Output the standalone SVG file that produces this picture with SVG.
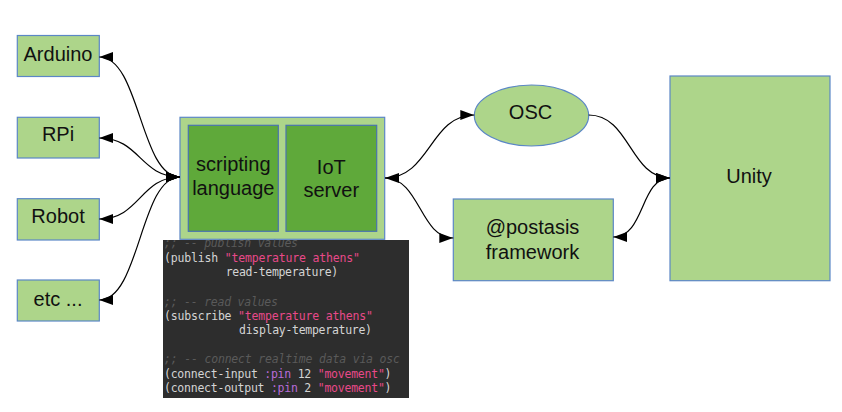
<svg xmlns="http://www.w3.org/2000/svg" width="842" height="412" viewBox="0 0 842 412">
<defs>
<style>
.box{fill:#add58a;stroke:#5b87c6;stroke-width:1.2}
.inner{fill:#5fa93a;stroke:#4a73b0;stroke-width:1.2}
.lbl{font-family:"Liberation Sans",Arial,sans-serif;font-size:20px;fill:#111;text-anchor:middle}
.con{fill:none;stroke:#000;stroke-width:1.2}
.code{font-family:"DejaVu Sans Mono","Liberation Mono",monospace;font-size:11.5px;fill:#d4d4d4}
.cm{fill:#5a5a5a;font-style:italic}
.st{fill:#e8498a}
.kw{fill:#b86cd8}
</style>
<marker id="arr" viewBox="0 0 14 10" markerWidth="14" markerHeight="10" refX="14" refY="5" markerUnits="userSpaceOnUse" orient="auto-start-reverse">
<path d="M0,0 L14,5 L0,10 z" fill="#000"/>
</marker>
</defs>
<rect width="842" height="412" fill="#fff"/>

<g id="code">
<rect x="163" y="240" width="246" height="158" fill="#2d2d2d"/>
<text class="code cm" x="164" y="247.3" textLength="134">;; -- publish values</text>
<text class="code" x="164" y="261.7" textLength="196">(publish <tspan class="st">"temperature athens"</tspan></text>
<text class="code" x="225.7" y="276.2" textLength="112.5">read-temperature)</text>
<text class="code cm" x="164" y="305.6" textLength="114">;; -- read values</text>
<text class="code" x="164" y="320" textLength="209">(subscribe <tspan class="st">"temperature athens"</tspan></text>
<text class="code" x="239" y="334.4" textLength="133">display-temperature)</text>
<text class="code cm" x="164" y="363.3" textLength="236">;; -- connect realtime data via osc</text>
<text class="code" x="164" y="377.7" textLength="227.5">(connect-input <tspan class="kw">:pin</tspan> 12 <tspan class="st">"movement"</tspan>)</text>
<text class="code" x="164" y="392.3" textLength="227.5">(connect-output <tspan class="kw">:pin</tspan> 2 <tspan class="st">"movement"</tspan>)</text>
</g>

<g id="arduino"><rect class="box" x="17.3" y="35.5" width="82" height="41"/><text class="lbl" x="58" y="60.5">Arduino</text></g>
<g id="rpi"><rect class="box" x="17.3" y="117.3" width="82" height="40.7"/><text class="lbl" x="58" y="141">RPi</text></g>
<g id="robot"><rect class="box" x="17.3" y="198.7" width="82" height="41.3"/><text class="lbl" x="58" y="223">Robot</text></g>
<g id="etc"><rect class="box" x="17.3" y="280" width="82" height="41"/><text class="lbl" x="58" y="306">etc ...</text></g>

<g id="container">
<rect class="box" x="180" y="117.3" width="204.7" height="122"/>
<g id="scripting"><rect class="inner" x="188.3" y="125.3" width="90" height="106"/><text class="lbl" x="233.3" y="171">scripting</text><text class="lbl" x="233.3" y="195">language</text></g>
<g id="iot"><rect class="inner" x="286" y="125.3" width="90.7" height="106"/><text class="lbl" x="331.3" y="174">IoT</text><text class="lbl" x="331.3" y="197">server</text></g>
</g>

<g id="osc"><ellipse class="box" cx="531.5" cy="115.5" rx="57.2" ry="30.5"/><text class="lbl" x="530.5" y="119">OSC</text></g>
<g id="postasis"><rect class="box" x="453.3" y="199" width="160" height="81.7"/><text class="lbl" x="532.5" y="234">@postasis</text><text class="lbl" x="532.5" y="259">framework</text></g>
<g id="unity"><rect class="box" x="670" y="76" width="160" height="204.7"/><text class="lbl" x="749" y="182.5">Unity</text></g>

<g id="connectors">
<path class="con" d="M99.3,57 C140,57 140,177 180,177" marker-start="url(#arr)" marker-end="url(#arr)"/>
<path class="con" d="M99.3,138 C140,138 140,177 180,177" marker-start="url(#arr)" marker-end="url(#arr)"/>
<path class="con" d="M99.3,219 C140,219 140,177 180,177" marker-start="url(#arr)" marker-end="url(#arr)"/>
<path class="con" d="M99.3,300 C140,300 140,177 180,177" marker-start="url(#arr)" marker-end="url(#arr)"/>
<path class="con" d="M385,178 C430,178 430,115 474.3,115" marker-start="url(#arr)" marker-end="url(#arr)"/>
<path class="con" d="M385,178 C420,178 420,238 453.3,238" marker-end="url(#arr)"/>
<path class="con" d="M588.7,115 C630,115 630,178 670,178" marker-end="url(#arr)"/>
<path class="con" d="M613.3,237 C645,237 640,178 670,178" marker-start="url(#arr)" marker-end="url(#arr)"/>
</g>
</svg>
